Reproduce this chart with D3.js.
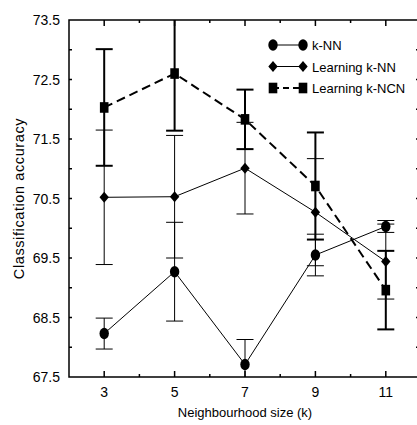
<!DOCTYPE html>
<html>
<head>
<meta charset="utf-8">
<script src="https://cdn.jsdelivr.net/npm/d3@7"></script>
<style>
  body { margin: 0; background: #fff; }
  text { font-family: "Liberation Sans", Arial, sans-serif; fill: #000; }
</style>
</head>
<body>
<svg id="chart" width="417" height="425"></svg>
<script>
const ks = [3, 5, 7, 9, 11];
const xTickLabels = [3, 5, 7, 9, 11];
const yTickLabels = [67.5, 68.5, 69.5, 70.5, 71.5, 72.5, 73.5];

const knnMean = [68.23, 69.27, 67.71, 69.55, 70.03];
const knnErr = [0.26, 0.83, 0.42, 0.35, 0.1];
const lknnMean = [70.52, 70.53, 71.01, 70.27, 69.44];
const lknnErr = [1.13, 1.03, 0.77, 0.9, 0.63];
const ncnMean = [72.03, 72.6, 71.83, 70.71, 68.96];
const ncnErr = [0.98, 0.96, 0.5, 0.9, 0.66];

const series = [
  { name: "k-NN", mean: knnMean, err: knnErr, shape: "circle", dash: null, width: 1, errWidth: 1 },
  { name: "Learning k-NN", mean: lknnMean, err: lknnErr, shape: "diamond", dash: null, width: 1, errWidth: 1 },
  { name: "Learning k-NCN", mean: ncnMean, err: ncnErr, shape: "square", dash: "9,5", width: 2, errWidth: 2 },
];

const margin = { left: 69, top: 20, right: 421, bottom: 377 };
const x = d3.scaleLinear().domain([2, 12]).range([margin.left, margin.right]);
const y = d3.scaleLinear().domain([67.5, 73.5]).range([margin.bottom, margin.top]);

const svg = d3.select("#chart");

svg.append("defs").append("clipPath").attr("id", "plot")
  .append("rect")
  .attr("x", margin.left).attr("y", margin.top)
  .attr("width", margin.right - margin.left).attr("height", margin.bottom - margin.top);

// axes frame
const frame = svg.append("g").attr("stroke", "#000").attr("stroke-width", 1.5).attr("fill", "none");
frame.append("path")
  .attr("d", `M${margin.right},${margin.top}H${margin.left}V${margin.bottom}H${margin.right}V${margin.top}`);

// x ticks (inward, bottom + top)
const xTicks = d3.range(3, 12);
xTicks.forEach((k) => {
  const len = k % 2 === 1 ? 6 : 3;
  frame.append("line").attr("x1", x(k)).attr("x2", x(k)).attr("y1", margin.bottom).attr("y2", margin.bottom - len);
  frame.append("line").attr("x1", x(k)).attr("x2", x(k)).attr("y1", margin.top).attr("y2", margin.top + len);
});

// y ticks (inward, left + right)
d3.range(68, 73.5, 0.5).forEach((v) => {
  frame.append("line").attr("x1", margin.left).attr("x2", margin.left + 3).attr("y1", y(v)).attr("y2", y(v));
  frame.append("line").attr("x1", margin.right).attr("x2", margin.right - 5).attr("y1", y(v)).attr("y2", y(v));
});

svg.append("g").selectAll("text").data(xTickLabels).join("text")
  .attr("x", (d) => x(d)).attr("y", 397)
  .attr("text-anchor", "middle").attr("font-size", 14)
  .text((d) => d);

svg.append("g").selectAll("text").data(yTickLabels).join("text")
  .attr("x", 60).attr("y", (d) => y(d) + 5)
  .attr("text-anchor", "end").attr("font-size", 14)
  .text((d) => d.toFixed(1));

svg.append("text")
  .attr("x", (margin.left + margin.right) / 2).attr("y", 417)
  .attr("text-anchor", "middle").attr("font-size", 13)
  .text("Neighbourhood size (k)");

svg.append("text")
  .attr("transform", `translate(24,${(margin.top + margin.bottom) / 2}) rotate(-90)`)
  .attr("text-anchor", "middle").attr("font-size", 14.5).attr("letter-spacing", 0.6)
  .text("Classification accuracy");

const plot = svg.append("g").attr("clip-path", "url(#plot)");

function marker(g, shape) {
  if (shape === "circle") {
    g.append("ellipse").attr("rx", 4.7).attr("ry", 5.7);
  } else if (shape === "diamond") {
    g.append("path").attr("d", "M0,-5.5L4.7,0L0,5.5L-4.7,0Z");
  } else {
    g.append("rect").attr("x", -4.3).attr("y", -5.3).attr("width", 8.6).attr("height", 10.6);
  }
}

// error bars
series.forEach((s) => {
  const g = plot.append("g").attr("stroke", "#000").attr("stroke-width", s.errWidth);
  ks.forEach((k, i) => {
    const lo = s.mean[i] - s.err[i];
    const hi = s.mean[i] + s.err[i];
    g.append("line").attr("x1", x(k)).attr("x2", x(k)).attr("y1", y(lo)).attr("y2", y(hi));
    [lo, hi].forEach((v) => {
      g.append("line").attr("x1", x(k) - 8.5).attr("x2", x(k) + 8.5).attr("y1", y(v)).attr("y2", y(v));
    });
  });
});

// lines
const line = d3.line().x((d) => x(d[0])).y((d) => y(d[1]));
series.forEach((s) => {
  plot.append("path")
    .attr("d", line(ks.map((k, i) => [k, s.mean[i]])))
    .attr("fill", "none").attr("stroke", "#000")
    .attr("stroke-width", s.width)
    .attr("stroke-dasharray", s.dash);
});

// markers
series.forEach((s) => {
  ks.forEach((k, i) => {
    const g = plot.append("g").attr("transform", `translate(${x(k)},${y(s.mean[i])})`).attr("fill", "#000");
    marker(g, s.shape);
  });
});

// legend
const legend = svg.append("g").attr("transform", "translate(273,45)");
series.forEach((s, i) => {
  const row = legend.append("g").attr("transform", `translate(0,${i * 21.5})`);
  row.append("line").attr("x1", 0).attr("x2", 30).attr("y1", 0).attr("y2", 0)
    .attr("stroke", "#000").attr("stroke-width", s.width).attr("stroke-dasharray", s.dash ? "6,4" : null);
  [0, 30].forEach((px) => {
    const m = row.append("g").attr("transform", `translate(${px},0)`).attr("fill", "#000");
    marker(m, s.shape);
  });
  row.append("text").attr("x", 39).attr("y", 5).attr("font-size", 13).text(s.name);
});
</script>
</body>
</html>
